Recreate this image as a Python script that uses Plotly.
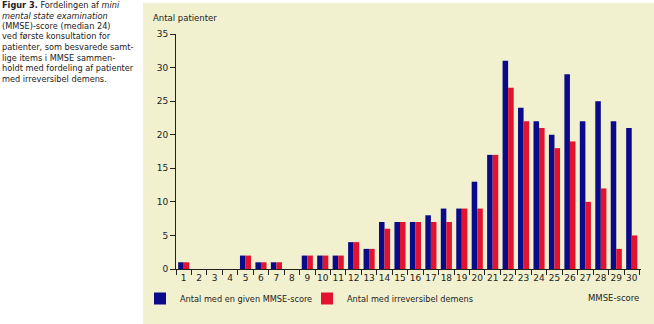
import plotly.graph_objects as go

scores = [str(i) for i in range(1, 31)]
antal_given = [1, 0, 0, 0, 2, 1, 1, 0, 2, 2, 2, 4, 3, 7, 7, 7, 8, 9, 9, 13,
               17, 31, 24, 22, 20, 29, 22, 25, 22, 21]
antal_irrev = [1, 0, 0, 0, 2, 1, 1, 0, 2, 2, 2, 4, 3, 6, 7, 7, 7, 7, 9, 9,
               17, 27, 22, 21, 18, 19, 10, 12, 3, 5]
y_ticks = [0, 5, 10, 15, 20, 25, 30, 35]

caption_lines = [
    "<b>Figur 3.</b> Fordelingen af <i>mini</i>",
    "<i>mental state examination</i>",
    "(MMSE)-score (median 24)",
    "ved første konsultation for",
    "patienter, som besvarede samt-",
    "lige items i MMSE sammen-",
    "holdt med fordeling af patienter",
    "med irreversibel demens.",
]

BLUE = "#0b0b8a"
RED = "#e3122f"
BG = "#f2f1cf"
FONT = "DejaVu Sans"

W, H = 654, 324
ml, mr, mt, mb = 176, 13, 34, 55
PW, PH = W - ml - mr, H - mt - mb


def px(x):
    return (x - ml) / PW


def py(y):
    return (H - mb - y) / PH


fig = go.Figure()
fig.add_trace(go.Bar(x=scores, y=antal_given, name="Antal med en given MMSE-score",
                     marker=dict(color=BLUE, line=dict(width=0))))
fig.add_trace(go.Bar(x=scores, y=antal_irrev, name="Antal med irreversibel demens",
                     marker=dict(color=RED, line=dict(width=0))))

fig.update_layout(
    width=W, height=H,
    margin=dict(l=ml, r=mr, t=mt, b=mb, autoexpand=False),
    paper_bgcolor="white",
    plot_bgcolor="rgba(0,0,0,0)",
    barmode="group", bargap=0.28, bargroupgap=0,
    font=dict(family=FONT, size=8, color="#222222"),
    showlegend=True,
    legend=dict(orientation="h", x=px(140), y=py(284), xanchor="left", yanchor="top",
                bgcolor="rgba(0,0,0,0)", font=dict(size=8.2, color="#222222"),
                entrywidth=122, entrywidthmode="pixels", itemwidth=30,
                traceorder="normal"),
    xaxis=dict(type="category", range=[-0.5, 29.6], tickson="boundaries",
               ticks="outside", ticklen=5, tickcolor="#222222", tickwidth=1,
               showline=True, linecolor="#222222", linewidth=1, tickangle=0,
               automargin=False,
               showgrid=False, zeroline=False, tickfont=dict(size=9)),
    yaxis=dict(range=[0, 35], tickvals=y_ticks, ticks="outside", ticklen=5,
               tickcolor="#222222", tickwidth=1, showline=True, automargin=False,
               linecolor="#222222", linewidth=1, showgrid=False,
               zeroline=False, tickfont=dict(size=9)),
)

# pale panel
fig.add_shape(type="rect", xref="paper", yref="paper",
              x0=px(143), x1=px(W + 2), y0=py(H + 2), y1=py(3),
              fillcolor=BG, line=dict(width=0), layer="below")

fig.add_annotation(text="Antal patienter", xref="paper", yref="paper",
                   x=px(151), y=py(18), xanchor="left", yanchor="middle",
                   showarrow=False, font=dict(size=8.5))
fig.add_annotation(text="MMSE-score", xref="paper", yref="paper",
                   x=px(641), y=py(298), xanchor="right", yanchor="middle",
                   showarrow=False, font=dict(size=8.5))

for i, line in enumerate(caption_lines):
    fig.add_annotation(text=line, xref="paper", yref="paper",
                       x=px(0), y=py(5 + i * 10.5),
                       xanchor="left", yanchor="middle", showarrow=False,
                       font=dict(size=8.2, color="#222222"))

fig.write_html("out.html")
